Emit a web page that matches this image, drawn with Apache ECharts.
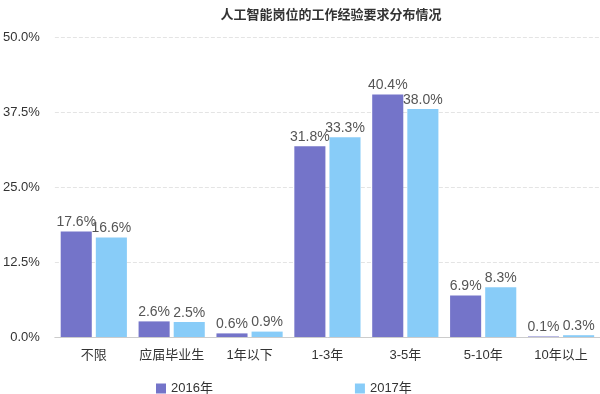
<!DOCTYPE html>
<html><head><meta charset="utf-8">
<script src="https://cdn.jsdelivr.net/npm/echarts@6/dist/echarts.min.js"></script>
<style>html,body{margin:0;padding:0;background:#fff}#c{width:600px;height:394px}</style>
</head><body><div id="c"></div>
<script>
const categories = ['不限','应届毕业生','1年以下','1-3年','3-5年','5-10年','10年以上'];
const s2016 = [17.6, 2.6, 0.6, 31.8, 40.4, 6.9, 0.1];
const s2017 = [16.6, 2.5, 0.9, 33.3, 38.0, 8.3, 0.3];
const yTicks = [0, 12.5, 25, 37.5, 50];

const font = '"Liberation Sans", "Noto Sans CJK SC", sans-serif';
const label = {show:true, position:'top', distance:2, color:'#555', fontSize:14, fontFamily:font, formatter: p => p.value.toFixed(1)+'%'};
const chart = echarts.init(document.getElementById('c'));
chart.setOption({
  animation:false,
  title:{text:'人工智能岗位的工作经验要求分布情况', left:326, top:3, textAlign:'center',
    textStyle:{fontSize:13, fontWeight:'bold', color:'#333', fontFamily:'"Noto Sans CJK SC", sans-serif'}},
  grid:{left:53, right:0, top:37, bottom:57, containLabel:false},
  legend:{left:151, top:377, itemWidth:10, itemHeight:10, itemGap:142, icon:'rect',
    textStyle:{fontSize:13, color:'#333', fontFamily:font}},
  xAxis:{type:'category', data:categories,
    axisLine:{lineStyle:{color:'#ccc'}}, axisTick:{show:false},
    axisLabel:{interval:0, hideOverlap:false, fontSize:13, color:'#333', margin:12, fontFamily:font}},
  yAxis:{type:'value', min:0, max:50, interval:12.5,
    axisLine:{show:false}, axisTick:{show:false},
    axisLabel:{fontSize:13, color:'#333', margin:15, fontFamily:font, formatter: v => v.toFixed(1)+'%'},
    splitLine:{lineStyle:{color:'#e4e4e4', type:'dashed'}}},
  series:[
    {name:'2016年', type:'bar', data:s2016, itemStyle:{color:'#7474c9'}, barGap:'13%', barCategoryGap:'15%', label},
    {name:'2017年', type:'bar', data:s2017, itemStyle:{color:'#88ccf8'}, label}
  ]
});
</script></body></html>
